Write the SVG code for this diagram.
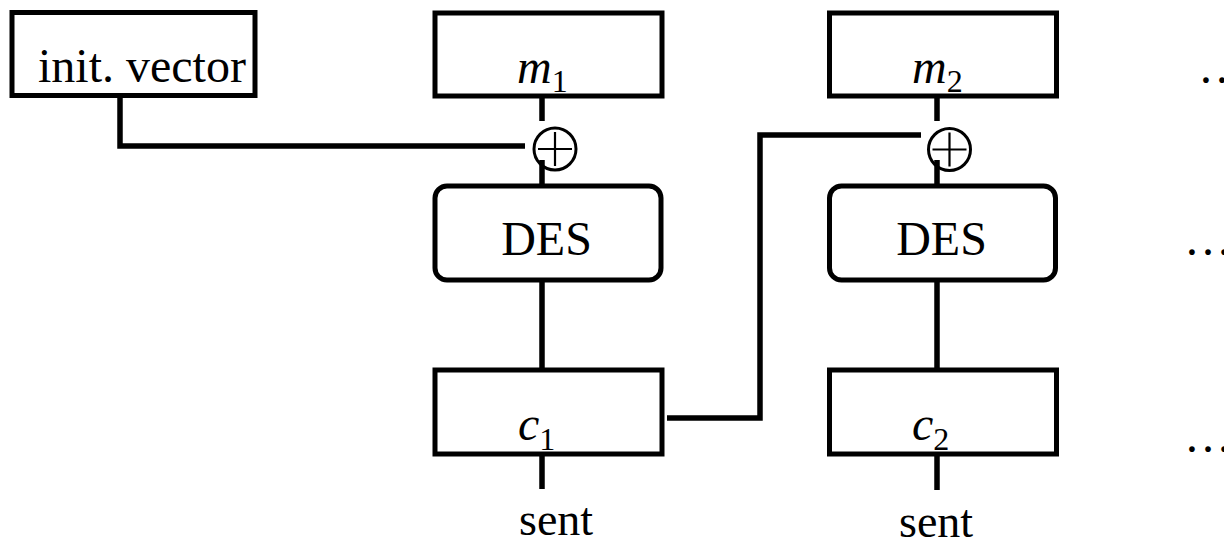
<svg xmlns="http://www.w3.org/2000/svg" width="1224" height="540" viewBox="0 0 1224 540">
<style>
.box{fill:#fff;stroke:#000;stroke-width:5}
.wire{fill:none;stroke:#000;stroke-width:5.5}
.xor{fill:none;stroke:#000;stroke-width:3}
.xorc{stroke:#000;stroke-width:2.2}
text{font-family:"Liberation Serif","Times New Roman",serif;fill:#000}
.lbl{font-size:48px}
.it{font-style:italic}
.sub{font-size:32px;font-style:normal}
.sent{font-size:46px}
</style>
<rect width="1224" height="540" fill="#fff"/>
<g id="connectors">
<path class="wire" d="M120,98 V146 H525"/>
<path class="wire" d="M667,418 H760 V135 H921"/>
<path class="wire" d="M542,98 V121 M542,160 V184 M542,282 V368 M542,456 V489"/>
<path class="wire" d="M937,98 V121 M937,160 V184 M937,282 V368 M937,456 V490"/>
</g>
<g id="init">
<rect class="box" x="12" y="12.5" width="243" height="83"/>
<text class="lbl" x="38" y="82">init. vector</text>
</g>
<g id="m1">
<rect class="box" x="435" y="13" width="227" height="83"/>
<text class="lbl it" x="517" y="83">m<tspan class="sub" dy="9">1</tspan></text>
</g>
<g id="xor1">
<circle class="xor" cx="555" cy="149" r="21"/>
<path class="xorc" d="M538,149 H572 M555,132 V166"/>
</g>
<g id="des1">
<rect class="box" x="435" y="186" width="226" height="94" rx="12"/>
<text class="lbl" x="546.5" y="255" text-anchor="middle">DES</text>
</g>
<g id="c1">
<rect class="box" x="435" y="370" width="227" height="84"/>
<text class="lbl it" x="518" y="440">c<tspan class="sub" dy="10">1</tspan></text>
</g>
<g id="sent1">
<text class="sent" x="519" y="535">sent</text>
</g>
<g id="m2">
<rect class="box" x="829.5" y="13" width="227" height="83"/>
<text class="lbl it" x="912" y="83">m<tspan class="sub" dy="9">2</tspan></text>
</g>
<g id="xor2">
<circle class="xor" cx="949.5" cy="149.5" r="21"/>
<path class="xorc" d="M932.5,149.5 H966.5 M949.5,132.5 V166.5"/>
</g>
<g id="des2">
<rect class="box" x="829.5" y="186" width="226" height="94" rx="12"/>
<text class="lbl" x="941.5" y="255" text-anchor="middle">DES</text>
</g>
<g id="c2">
<rect class="box" x="829.5" y="370" width="227" height="84"/>
<text class="lbl it" x="912" y="440">c<tspan class="sub" dy="10">2</tspan></text>
</g>
<g id="sent2">
<text class="sent" x="899" y="537">sent</text>
</g>
<g id="dots">
<text class="lbl" x="1198" y="83">…</text>
<text class="lbl" x="1184" y="255">…</text>
<text class="lbl" x="1184" y="452">…</text>
</g>
</svg>
